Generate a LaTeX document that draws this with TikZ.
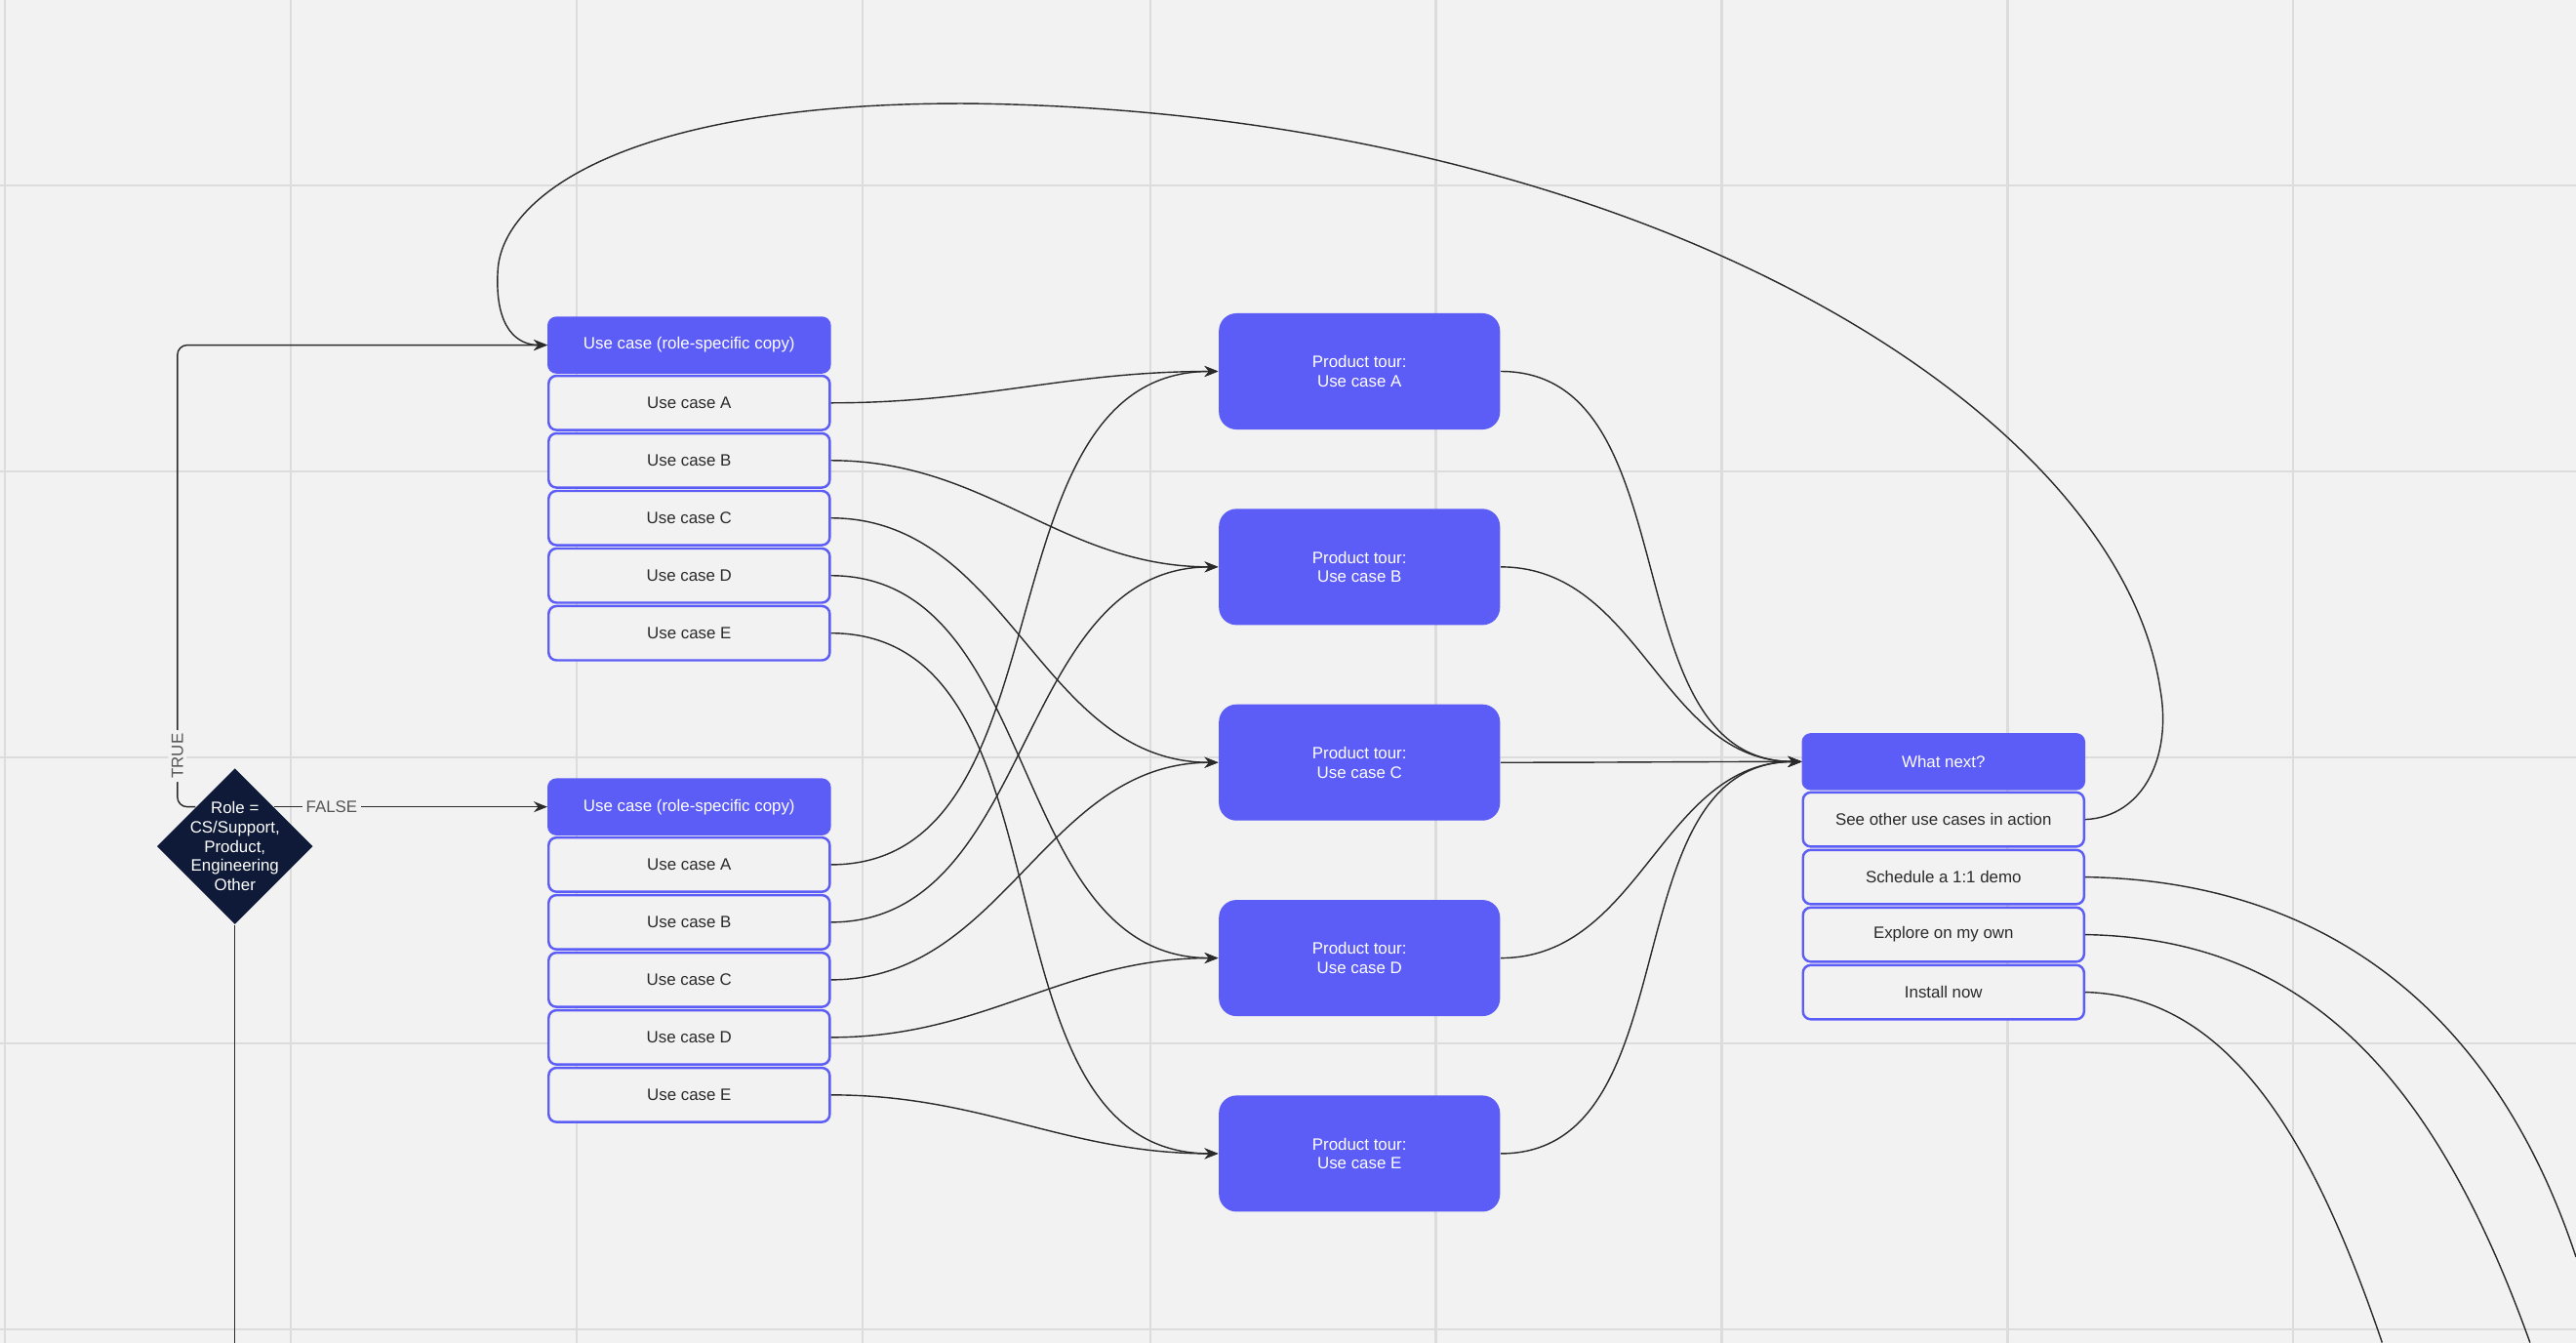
\documentclass[tikz,border=0pt]{standalone}
\usepackage{fontspec}
\setmainfont{Liberation Sans}
\usetikzlibrary{arrows.meta,shapes.geometric,positioning}
\definecolor{bg}{HTML}{F2F2F2}
\definecolor{gridc}{HTML}{DCDCDC}
\definecolor{violet}{HTML}{5C5CF6}
\definecolor{navy}{HTML}{0F1A38}
\definecolor{ink}{HTML}{2A2A2A}
\tikzset{
	every node/.style={font=\fontsize{4.8}{5.6}\selectfont},
	header/.style={
		rectangle, minimum width=2.88cm, minimum height=0.56cm, rounded corners=0.8mm,
		fill=violet, draw=violet, line width=0.7pt, text=white
	},
	%
	option/.style={
		rectangle, minimum width=2.88cm, minimum height=0.555cm, rounded corners=0.8mm,
		draw=violet, line width=0.7pt, fill=bg, text=ink
	},
	%
	tour/.style={
		rectangle, minimum width=2.88cm, minimum height=1.19cm, rounded corners=1.8mm,
		fill=violet, text=white, align=center
	},
	%
	decision/.style={
		diamond, aspect=1, minimum size=1.6cm, inner sep=-0.2cm,
		fill=navy, text=white, align=center
	},
	%
	link/.style={ink, line width=0.4pt},
	arrow/.style={link, -{Stealth[length=1.4mm,width=1.1mm]}},
	tag/.style={fill=bg, text=ink!80, inner sep=1pt}
}
\begin{document}
\begin{tikzpicture}[x=0.016837cm, y=-0.016837cm, node distance=0.1mm]
    \fill[bg] (0,0) rectangle (1568,817);
    \useasboundingbox (0,0) rectangle (1568,817);
    \foreach \gx in {3,177,351,525,700,874,1048,1222,1396} \draw[gridc, line width=0.6pt] (\gx,0) -- (\gx,817);
    \foreach \gy in {113,287,461,635,809} \draw[gridc, line width=0.6pt] (0,\gy) -- (1568,\gy);

    \node(role)[decision] at (143,515) {Role =\\CS/Support,\\Product,\\Engineering\\Other};

    % role-specific use cases
    \node(top)[header] at (419.5,210) {Use case (role-specific copy)};
    \node(topA)[option, below=of top] {Use case A};
    \node(topB)[option, below=of topA] {Use case B};
    \node(topC)[option, below=of topB] {Use case C};
    \node(topD)[option, below=of topC] {Use case D};
    \node(topE)[option, below=of topD] {Use case E};

    \node(low)[header] at (419.5,491) {Use case (role-specific copy)};
    \node(lowA)[option, below=of low] {Use case A};
    \node(lowB)[option, below=of lowA] {Use case B};
    \node(lowC)[option, below=of lowB] {Use case C};
    \node(lowD)[option, below=of lowC] {Use case D};
    \node(lowE)[option, below=of lowD] {Use case E};

    % product tours
    \node(tourA)[tour] at (827.5,226) {Product tour:\\Use case A};
    \node(tourB)[tour] at (827.5,345) {Product tour:\\Use case B};
    \node(tourC)[tour] at (827.5,464) {Product tour:\\Use case C};
    \node(tourD)[tour] at (827.5,583) {Product tour:\\Use case D};
    \node(tourE)[tour] at (827.5,702) {Product tour:\\Use case E};

    % what next
    \node(next)[header] at (1183,463.5) {What next?};
    \node(other)[option, below=of next] {See other use cases in action};
    \node(demo)[option, below=of other] {Schedule a 1:1 demo};
    \node(own)[option, below=of demo] {Explore on my own};
    \node(install)[option, below=of own] {Install now};

    \coordinate(bend) at (108,491);
    \coordinate(down) at (143,817);
    \coordinate(outDemo) at (1568,765);
    \coordinate(outOwn) at (1540,817);
    \coordinate(outInstall) at (1450,817);

    \draw[arrow, rounded corners=1mm] (role.north west |- bend) -- (bend) -- node[tag, pos=0.11, rotate=90] {TRUE} (108,210) -- (top.west);
    \draw[arrow] (role.north east |- low) -- node[tag, pos=0.21] {FALSE} (low.west);
    \draw[link] (role.south) -- (down);

    \foreach \s in {A,B,C,D,E} {
        \draw[arrow] (top\s.east) to[out=0, in=180] (tour\s.west);
        \draw[arrow] (low\s.east) to[out=0, in=180] (tour\s.west);
        \draw[arrow] (tour\s.east) to[out=0, in=180] (next.west);
    }

    \draw[arrow] (other.east) .. controls (1305,497) and (1322,460) .. (1315,420)
        .. controls (1290,250) and (1000,68) .. (590,63)
        .. controls (380,62) and (305,120) .. (303,165)
        .. controls (301,200) and (315,210) .. (top.west);
    \draw[link] (demo.east) .. controls (1420,536) and (1520,620) .. (outDemo);
    \draw[link] (own.east) .. controls (1400,571) and (1480,650) .. (outOwn);
    \draw[link] (install.east) .. controls (1360,606) and (1410,700) .. (outInstall);
\end{tikzpicture}
\end{document}
